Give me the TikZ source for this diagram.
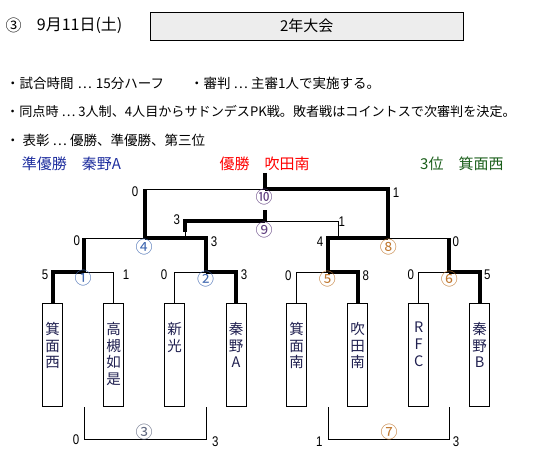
\documentclass[tikz,border=0pt]{standalone}
\usepackage{fontspec}
\setmainfont{Liberation Serif}
\newfontfamily\jp{Noto Sans CJK JP}
\newfontfamily\scorefont[FakeStretch=0.82]{Liberation Sans}
\definecolor{runblue}{HTML}{1F2F9F}
\definecolor{winred}{HTML}{FF0000}
\definecolor{thirdgreen}{HTML}{1A5E1A}
\definecolor{teamcol}{HTML}{202050}
\definecolor{cblue}{HTML}{4068B0}
\definecolor{corange}{HTML}{C07830}
\definecolor{cpurple}{HTML}{604080}
\definecolor{cgray}{HTML}{606880}
\tikzset{
  thin line/.style={line width=0.9pt},
  thick line/.style={line width=4pt, line join=miter},
  teambox/.style={draw, line width=0.9pt, minimum width=20pt, minimum height=102.7pt, inner sep=0pt},
  teamname/.style={anchor=north, inner sep=0pt, align=center, text=teamcol, font=\jp\fontsize{14.5}{16.7}\selectfont},
  score/.style={inner sep=0pt, font=\scorefont\fontsize{14}{14}\selectfont},
  circ/.style={inner sep=0pt, font=\jp\fontsize{17}{17}\selectfont},
  txt/.style={anchor=west, inner sep=0pt, font=\jp\fontsize{13.5}{15}\selectfont},
}
\begin{document}
\begin{tikzpicture}[x=1pt,y=-1pt]
\useasboundingbox (0,0) rectangle (544,454);
% header
\node[inner sep=0pt, font=\jp\fontsize{16}{17}\selectfont] (hnum) at (13.7,25) {③};
\node[anchor=west, inner sep=0pt, font=\jp\fontsize{16}{17}\selectfont] (hdate) at (36.7,25) {9月11日(土)};
\node[draw, line width=0.9pt, fill=black!7, minimum width=313pt, minimum height=28pt, inner sep=0pt, font=\jp\fontsize{15}{16}\selectfont] (htitle) at (306.8,26) {2年大会};
% rules
\node[txt] (r1a) at (6,83.3) {・試合時間\hspace{4pt}…\hspace{4pt}15分ハーフ};
\node[txt] (r1b) at (190,83.3) {・審判 … 主審1人で実施する。};
\node[txt, font=\jp\fontsize{13.1}{15}\selectfont] (r2) at (6,111.7) {・同点時 … 3人制、4人目からサドンデスPK戦。敗者戦はコイントスで次審判を決定。};
\node[txt] (r3) at (6,140) {・ 表彰 … 優勝、準優勝、第三位};
% results
\node[anchor=west, inner sep=0pt, text=runblue, font=\jp\fontsize{15}{16}\selectfont] (w2) at (21.7,164) {準優勝　秦野A};
\node[anchor=west, inner sep=0pt, text=winred, font=\jp\fontsize{15}{16}\selectfont] (w1) at (219.3,164) {優勝　吹田南};
\node[anchor=west, inner sep=0pt, text=thirdgreen, font=\jp\fontsize{15}{16}\selectfont] (w3) at (420,164) {3位　箕面西};
% team boxes
\foreach \i/\x in {1/52.7,2/113.7,3/174.7,4/236,5/296.7,6/357.7,7/418.7,8/479.7}{
  \node[teambox] (t\i) at (\x,355.3) {};
}
\node[teamname] (n1) at (52.7,322) {箕\\面\\西};
\node[teamname] (n2) at (113.7,322) {高\\槻\\如\\是};
\node[teamname] (n3) at (174.7,322) {新\\光};
\node[teamname] (n4) at (236,322) {秦\\野\\A};
\node[teamname] (n5) at (296.7,322) {箕\\面\\南};
\node[teamname] (n6) at (357.7,322) {吹\\田\\南};
\node[teamname] (n7) at (418.7,322) {R\\F\\C};
\node[teamname] (n8) at (479.7,322) {秦\\野\\B};
% junctions
\coordinate (m1) at (84,272);
\coordinate (m2) at (206,272);
\coordinate (m5) at (328,272);
\coordinate (m6) at (449,272);
\coordinate (m4) at (145,238);
\coordinate (m8) at (388,238);
\coordinate (m10) at (265,189);
\coordinate (c10) at (265,173);
\coordinate (m9) at (265,221);
\coordinate (c9) at (265,210);
\coordinate (j9L) at (185,238);
\coordinate (j9Lb) at (185,232);
\coordinate (j9R) at (338,238);
\coordinate (m3) at (144,439.3);
\coordinate (m7) at (389,439.3);
% round 1
\draw[thin line] (t2.north) |- (m1);
\draw[thick line] (t1.north) |- (m1);
\draw[thin line] (t3.north) |- (m2);
\draw[thick line] (t4.north) |- (m2);
\draw[thin line] (t5.north) |- (m5);
\draw[thick line] (t6.north) |- (m5);
\draw[thin line] (t7.north) |- (m6);
\draw[thick line] (t8.north) |- (m6);
% round 2
\draw[thin line] (m1 |- m4) -- (m4);
\draw[thick line] (m1) -- (m1 |- m4);
\draw[thick line] (m2) |- (m4);
\draw[thick line] (m5) |- (m8);
\draw[thin line] (m6 |- m8) -- (m8);
\draw[thick line] (m6) -- (m6 |- m8);
% final
\draw[thin line] (m4 |- m10) -- (m10);
\draw[thick line] (m4) -- (m4 |- m10);
\draw[thick line] (m10) -| (m8);
\draw[thick line] (c10) -- (m10);
% third place
\draw[thin line] (j9L) -- (j9Lb);
\draw[thin line] (m9) -| (j9R);
\draw[thick line] (j9Lb) |- (m9);
\draw[thick line] (m9) -- (c9);
% losers matches
\draw[thin line] (m1 |- t1.south) |- (m3) -| (m2 |- t1.south);
\draw[thin line] (m5 |- t1.south) |- (m7) -| (m6 |- t1.south);
% match numbers
\node[circ, text=cblue] (k1) at (83,278) {①};
\node[circ, text=cblue] (k2) at (205.7,279) {②};
\node[circ, text=cgray] (k3) at (144,431.7) {③};
\node[circ, text=cblue] (k4) at (144,247) {④};
\node[circ, text=corange] (k5) at (327.3,279.3) {⑤};
\node[circ, text=corange] (k6) at (449.3,279) {⑥};
\node[circ, text=corange] (k7) at (389,431.7) {⑦};
\node[circ, text=corange] (k8) at (388.3,247.3) {⑧};
\node[circ, text=cpurple] (k9) at (264,230) {⑨};
\node[circ, text=cpurple] (k10) at (264,197) {⑩};
% scores
\node[score] (s1) at (45,275) {5};
\node[score] (s2) at (126,275) {1};
\node[score] (s3) at (164,275) {0};
\node[score] (s4) at (244,275) {3};
\node[score] (s5) at (288.3,276) {0};
\node[score] (s6) at (365.7,276) {8};
\node[score] (s7) at (410.7,275) {0};
\node[score] (s8) at (487.3,275) {5};
\node[score] (s9) at (76.7,241) {0};
\node[score] (s10) at (214,242) {3};
\node[score] (s11) at (320,242) {4};
\node[score] (s12) at (455.7,242) {0};
\node[score] (s13) at (135,192) {0};
\node[score] (s14) at (396,193) {1};
\node[score] (s15) at (176.7,220) {3};
\node[score] (s16) at (341.7,222) {1};
\node[score] (s17) at (76,440) {0};
\node[score] (s18) at (215.3,442) {3};
\node[score] (s19) at (319.3,442) {1};
\node[score] (s20) at (456,442) {3};
\end{tikzpicture}
\end{document}
